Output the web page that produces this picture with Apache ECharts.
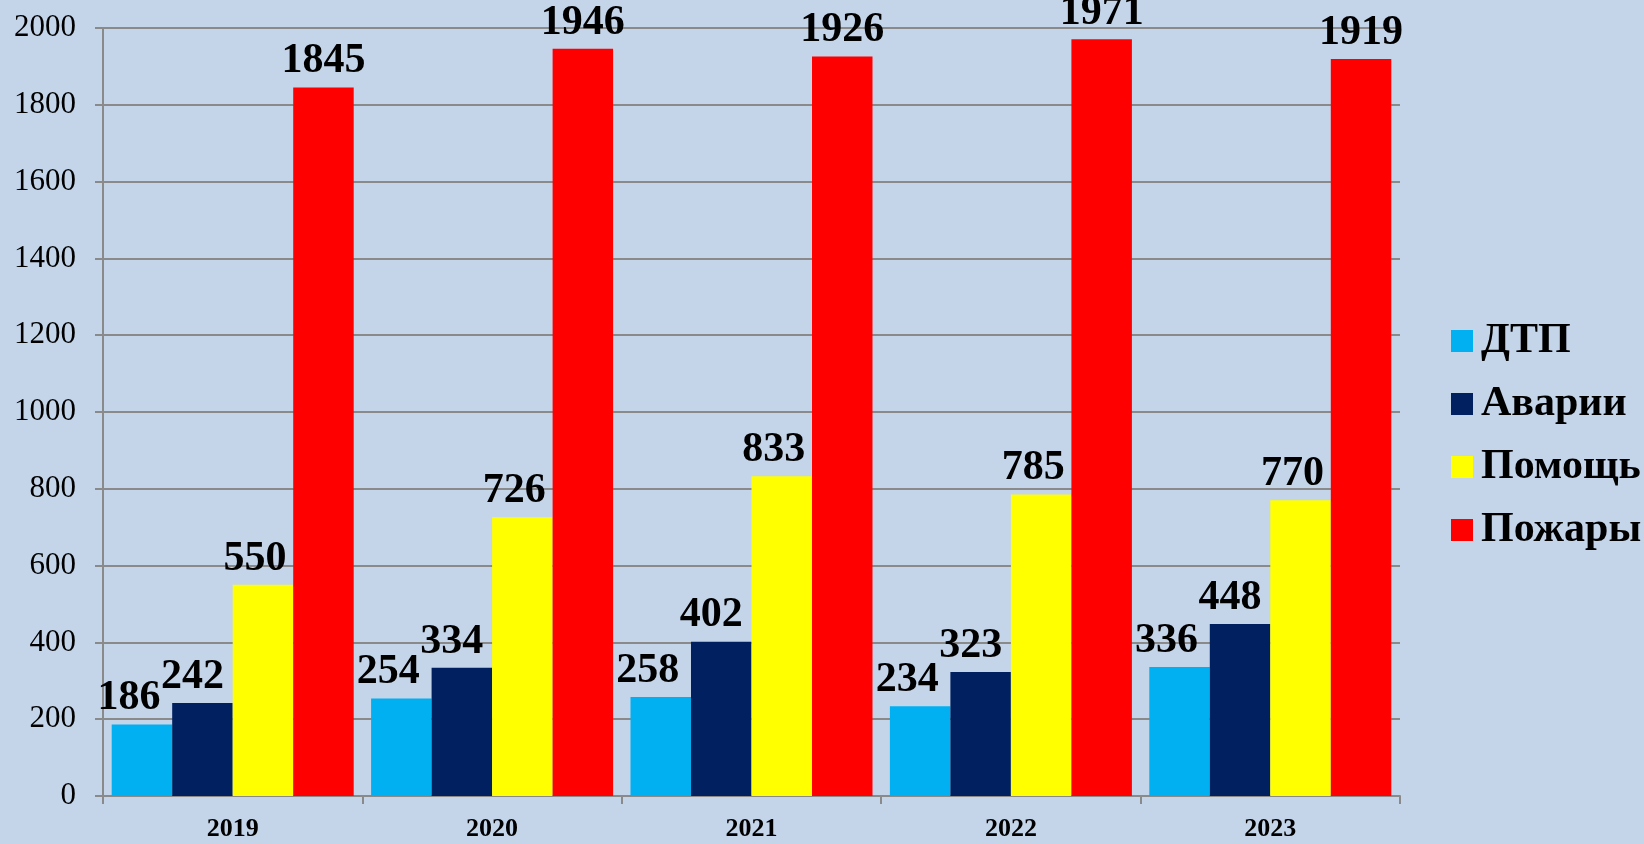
<!DOCTYPE html>
<html>
<head>
<meta charset="utf-8">
<script src="https://cdn.jsdelivr.net/npm/echarts@6/dist/echarts.min.js"></script>
<style>
html,body{margin:0;padding:0;background:#C4D5EA;}
#c{width:1644px;height:844px;}
</style>
</head>
<body>
<div id="c"></div>
<script>
var categories = ['2019', '2020', '2021', '2022', '2023'];
var seriesNames = ['ДТП', 'Аварии', 'Помощь', 'Пожары'];
var dtp = [186, 254, 258, 234, 336];
var avarii = [242, 334, 402, 323, 448];
var pomosch = [550, 726, 833, 785, 770];
var pozhary = [1845, 1946, 1926, 1971, 1919];
var yTicks = [0, 200, 400, 600, 800, 1000, 1200, 1400, 1600, 1800, 2000];

var colors = ['#00B0F0', '#002060', '#FFFF00', '#FF0000'];
var values = [dtp, avarii, pomosch, pozhary];
var offsets = [[-13, 0], [-10, 0], [-8, 0], [0, 0]];
var font = '"Liberation Serif", "Times New Roman", serif';

var chart = echarts.init(document.getElementById('c'));
var series = seriesNames.map(function (name, i) {
  return {
    name: name,
    type: 'bar',
    data: values[i],
    barGap: '0%',
    barCategoryGap: '6.7%',
    itemStyle: { color: colors[i] },
    label: {
      show: true,
      position: 'top',
      distance: 5,
      offset: offsets[i],
      fontFamily: font,
      fontWeight: 'bold',
      fontSize: 42,
      color: '#000'
    }
  };
});

chart.setOption({
  backgroundColor: '#C4D5EA',
  animation: false,
  textStyle: { fontFamily: font },
  grid: { left: 103, top: 28, right: 244, bottom: 48, containLabel: false },
  legend: {
    orient: 'vertical',
    left: 1446,
    top: 315,
    icon: 'rect',
    itemWidth: 22,
    itemHeight: 22,
    itemGap: 21,
    data: seriesNames,
    textStyle: {
      fontFamily: font,
      fontWeight: 'bold',
      fontSize: 42,
      lineHeight: 42,
      color: '#000',
      padding: [0, 0, 0, 3]
    }
  },
  xAxis: {
    type: 'category',
    data: categories,
    axisLine: { lineStyle: { color: '#8A8A8A', width: 2 } },
    axisTick: { show: true, length: 8, lineStyle: { color: '#8A8A8A', width: 2 } },
    axisLabel: {
      fontFamily: font,
      fontWeight: 'bold',
      fontSize: 26,
      color: '#000',
      margin: 20
    }
  },
  yAxis: {
    type: 'value',
    min: yTicks[0],
    max: yTicks[yTicks.length - 1],
    interval: yTicks[1] - yTicks[0],
    axisLine: { show: true, lineStyle: { color: '#8A8A8A', width: 2 } },
    axisTick: { show: true, length: 8, lineStyle: { color: '#8A8A8A', width: 2 } },
    splitLine: { show: true, lineStyle: { color: '#8A8A8A', width: 2 } },
    axisLabel: {
      fontFamily: font,
      fontSize: 31,
      color: '#000',
      margin: 27,
      formatter: function (v) { return String(v); }
    }
  },
  series: series
});
</script>
</body>
</html>
